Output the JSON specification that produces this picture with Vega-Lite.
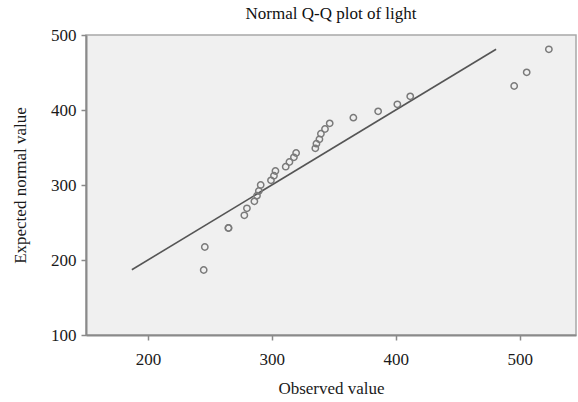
{
  "$schema": "https://vega.github.io/schema/vega-lite/v6.json",
  "width": 490,
  "height": 300,
  "autosize": {"type": "none"},
  "padding": {"left": 86, "top": 35, "right": 2, "bottom": 67},
  "background": "white",
  "title": {
    "text": "Normal Q-Q plot of light",
    "font": "Liberation Serif",
    "fontSize": 17,
    "fontWeight": "normal",
    "color": "#111111",
    "anchor": "middle",
    "frame": "group",
    "offset": 3
  },
  "config": {
    "view": {"fill": "#f0f0f0", "stroke": "#a8a8a8", "strokeWidth": 1.5},
    "axis": {
      "grid": false,
      "labelFont": "Liberation Serif",
      "labelFontSize": 17,
      "labelColor": "#1a1a1a",
      "titleFont": "Liberation Serif",
      "titleFontSize": 17,
      "titleFontWeight": "normal",
      "titleColor": "#1a1a1a",
      "domainColor": "#8a8a8a",
      "domainWidth": 2,
      "tickColor": "#8a8a8a",
      "tickWidth": 1.5,
      "tickSize": 5
    }
  },
  "layer": [
    {
      "data": {"values": [{"observed": 187, "expected": 187}, {"observed": 481, "expected": 481}]},
      "mark": {"type": "line", "color": "#555555", "strokeWidth": 1.6},
      "encoding": {
        "x": {"field": "observed", "type": "quantitative"},
        "y": {"field": "expected", "type": "quantitative"}
      }
    },
    {
      "data": {"values": [
        {"observed": 245.0, "expected": 186.7},
        {"observed": 245.9, "expected": 217.3},
        {"observed": 265.0, "expected": 242.7},
        {"observed": 265.0, "expected": 242.7},
        {"observed": 277.8, "expected": 259.6},
        {"observed": 279.9, "expected": 268.9},
        {"observed": 285.9, "expected": 278.2},
        {"observed": 288.0, "expected": 285.8},
        {"observed": 289.5, "expected": 292.0},
        {"observed": 291.0, "expected": 300.0},
        {"observed": 299.3, "expected": 306.2},
        {"observed": 301.7, "expected": 312.4},
        {"observed": 302.9, "expected": 318.7},
        {"observed": 311.2, "expected": 324.4},
        {"observed": 314.2, "expected": 330.7},
        {"observed": 317.8, "expected": 336.9},
        {"observed": 319.6, "expected": 342.7},
        {"observed": 335.1, "expected": 348.9},
        {"observed": 336.0, "expected": 355.1},
        {"observed": 338.4, "expected": 360.9},
        {"observed": 339.6, "expected": 368.4},
        {"observed": 342.9, "expected": 374.7},
        {"observed": 346.7, "expected": 382.2},
        {"observed": 365.8, "expected": 389.8},
        {"observed": 385.8, "expected": 398.2},
        {"observed": 401.3, "expected": 407.6},
        {"observed": 411.7, "expected": 418.2},
        {"observed": 495.6, "expected": 432.0},
        {"observed": 505.7, "expected": 450.2},
        {"observed": 523.6, "expected": 480.9}
      ]},
      "mark": {"type": "point", "filled": false, "color": "#7a7a7a", "strokeWidth": 1.5, "size": 40, "opacity": 1},
      "encoding": {
        "x": {
          "field": "observed",
          "type": "quantitative",
          "title": "Observed value",
          "scale": {"domain": [150, 545.5], "nice": false, "zero": false},
          "axis": {"values": [200, 300, 400, 500], "labelPadding": 11, "titlePadding": 13}
        },
        "y": {
          "field": "expected",
          "type": "quantitative",
          "title": "Expected normal value",
          "scale": {"domain": [100, 500], "nice": false, "zero": false},
          "axis": {"values": [100, 200, 300, 400, 500], "labelPadding": 5, "titlePadding": 21}
        }
      }
    }
  ]
}
